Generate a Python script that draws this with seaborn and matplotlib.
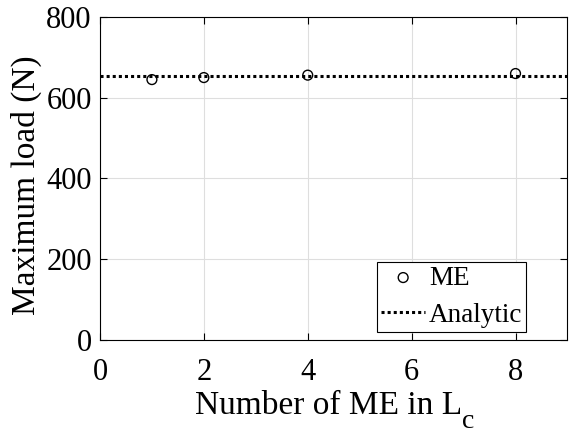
import matplotlib
matplotlib.use("Agg")
import matplotlib.pyplot as plt
import seaborn as sns
import pandas as pd

# Data
n_me = [1, 2, 4, 8]
max_load = [645, 650, 656, 660]
analytic_load = 654

df = pd.DataFrame({"n": n_me, "load": max_load})

sns.set_style("whitegrid")
plt.rcParams["font.family"] = ["Liberation Serif", "DejaVu Serif"]
plt.rcParams["text.color"] = "black"
plt.rcParams["axes.labelcolor"] = "black"
plt.rcParams["xtick.color"] = "black"
plt.rcParams["ytick.color"] = "black"

fig = plt.figure(figsize=(5.69, 4.36), dpi=100)
ax = fig.add_axes([0.1757, 0.2202, 0.8216, 0.7408])

ax.axhline(analytic_load, color="black", linestyle=(0, (1, 1)), linewidth=2.2,
           label="Analytic", zorder=2)
sns.scatterplot(data=df, x="n", y="load", ax=ax, marker="o", s=50,
                facecolor="none", edgecolor="black", linewidth=1.0,
                label="ME", zorder=3)

ax.set_xlim(0, 9)
ax.set_ylim(0, 800)
ax.set_xticks([0, 2, 4, 6, 8])
ax.set_yticks([0, 200, 400, 600, 800])
ax.tick_params(axis="y", labelsize=22, direction="in", length=5, pad=6,
               left=True, right=True)
ax.tick_params(axis="x", labelsize=22, direction="in", length=5, pad=13,
               bottom=True, top=True)
ax.grid(True, color="#dedede", linewidth=0.8)
for s in ax.spines.values():
    s.set_color("black")
    s.set_linewidth(0.8)

# x label with a deep subscript, like the original
xlab = ax.set_xlabel("Number of ME in L", fontsize=24)
ax.xaxis.set_label_coords(0.488, -0.155)
xlab.set_verticalalignment("top")
ax.annotate("c", xy=(1, 0), xycoords=xlab, xytext=(0, 8),
            textcoords="offset points", fontsize=20, va="top", ha="left")

ax.set_ylabel("Maximum load (N)", fontsize=24)
ax.yaxis.set_label_coords(-0.124, 0.48)

handles, labels = ax.get_legend_handles_labels()
order = [labels.index("ME"), labels.index("Analytic")]
leg = ax.legend([handles[i] for i in order], [labels[i] for i in order],
                loc="lower right", fontsize=19.5, frameon=True, fancybox=False,
                framealpha=1, edgecolor="black", borderpad=0.15,
                handlelength=1.6, handletextpad=0.15, labelspacing=0.45,
                borderaxespad=0.0, bbox_to_anchor=(0.912, 0.025))
leg.get_frame().set_linewidth(0.8)

fig.savefig("out.png", dpi=100)
